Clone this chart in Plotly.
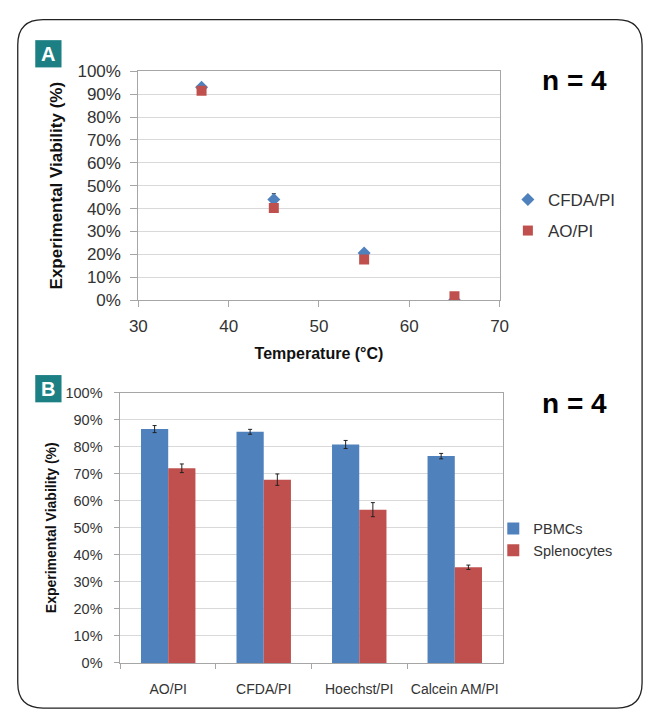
import plotly.graph_objects as go

W, H = 654, 719

# ---------- Data: panel A ----------
temperatures = [37, 45, 55, 65]
cfda_viability = [93.0, 44.0, 20.6, 0.0]
cfda_err = [1.0, 2.5, 1.0, 0.5]
ao_viability = [91.5, 40.3, 17.7, 1.7]
ao_err = [1.0, 1.5, 1.0, 0.5]

# ---------- Data: panel B ----------
stains = ["AO/PI", "CFDA/PI", "Hoechst/PI", "Calcein AM/PI"]
pbmc_viability = [86.5, 85.5, 80.8, 76.5]
pbmc_err = [1.3, 0.9, 1.5, 1.0]
spleno_viability = [72.0, 67.8, 56.7, 35.4]
spleno_err = [1.6, 2.1, 2.6, 0.8]

BLUE = "#4f81bd"
RED = "#c0504d"
TEAL = "#1b7f83"
GRID = "#d9d9d9"
AXIS = "#a6a6a6"
TXT = "#333333"
FONT = "Liberation Sans"


def px_x(x):
    return x / W


def px_y(y):
    return 1 - y / H


fig = go.Figure()

fig.add_trace(go.Scatter(
    x=temperatures, y=cfda_viability, mode="markers", name="CFDA/PI",
    marker=dict(symbol="diamond", size=10, color=BLUE),
    error_y=dict(type="data", array=cfda_err, color="#222222", thickness=1, width=2),
    xaxis="x", yaxis="y", legend="legend", legendgroup="cfda",
))
fig.add_trace(go.Scatter(
    x=temperatures, y=ao_viability, mode="markers", name="AO/PI",
    marker=dict(symbol="square", size=10, color=RED),
    error_y=dict(type="data", array=ao_err, color="#222222", thickness=1, width=2),
    xaxis="x", yaxis="y", legend="legend", legendgroup="ao",
))

fig.add_trace(go.Bar(
    x=stains, y=pbmc_viability, name="PBMCs", marker=dict(color=BLUE, line=dict(width=0)),
    error_y=dict(type="data", array=pbmc_err, color="#222222", thickness=1, width=2),
    xaxis="x2", yaxis="y2", legend="legend2",
))
fig.add_trace(go.Bar(
    x=stains, y=spleno_viability, name="Splenocytes", marker=dict(color=RED, line=dict(width=0)),
    error_y=dict(type="data", array=spleno_err, color="#222222", thickness=1, width=2),
    xaxis="x2", yaxis="y2", legend="legend2",
))

axis_common = dict(
    showline=True, linecolor=AXIS, linewidth=1, mirror=True,
    ticks="outside", tickcolor=AXIS, zeroline=False,
)

fig.update_layout(
    width=W, height=H,
    margin=dict(l=0, r=0, t=0, b=0),
    paper_bgcolor="white", plot_bgcolor="white",
    font=dict(family=FONT, color=TXT),
    barmode="group", bargap=0.43, bargroupgap=0,
    xaxis=dict(
        domain=[px_x(133), px_x(504.5)], anchor="y",
        range=[30, 70], dtick=10, showgrid=False, ticklen=6,
        tickfont=dict(size=17, color=TXT), ticklabelstandoff=5,
        title=dict(text="<b>Temperature (°C)</b>", font=dict(size=16, color="#111111"), standoff=12),
        **axis_common,
    ),
    yaxis=dict(
        domain=[px_y(299), px_y(64)], anchor="x",
        range=[0, 100], dtick=10, ticksuffix="%", ticklen=7,
        showgrid=True, gridcolor=GRID,
        tickfont=dict(size=17, color=TXT), ticklabelstandoff=6,
        title=dict(text="<b>Experimental Viability (%)</b>", font=dict(size=17, color="#111111"), standoff=10),
        **axis_common,
    ),
    xaxis2=dict(
        domain=[px_x(114.6), px_x(507.5)], anchor="y2",
        showgrid=False, tickson="boundaries", ticklen=5, tickangle=0,
        tickfont=dict(size=14, color=TXT), ticklabelstandoff=13,
        **axis_common,
    ),
    yaxis2=dict(
        domain=[px_y(671.7), px_y(394)], anchor="x2",
        range=[0, 100], dtick=10, ticksuffix="%", ticklen=5,
        showgrid=True, gridcolor=GRID,
        tickfont=dict(size=14.5, color=TXT), ticklabelstandoff=9,
        title=dict(text="<b>Experimental Viability (%)</b>", font=dict(size=14, color="#111111"), standoff=5),
        **axis_common,
    ),
    legend=dict(
        x=px_x(513), y=px_y(212), xanchor="left", yanchor="middle",
        font=dict(size=17, color=TXT), bgcolor="rgba(0,0,0,0)",
        itemwidth=30, tracegroupgap=6,
    ),
    legend2=dict(
        x=px_x(498), y=px_y(545), xanchor="left", yanchor="middle",
        font=dict(size=14.5, color=TXT), bgcolor="rgba(0,0,0,0)",
        itemwidth=30, tracegroupgap=0,
    ),
    showlegend=True,
)

# rounded outer frame
r = 26
x0, y0, x1, y1 = 9, 11, 651, 718
def P(x, y):
    return f"{px_x(x)},{px_y(y)}"
path = (
    f"M {P(x0 + r, y0)} L {P(x1 - r, y0)} Q {P(x1, y0)} {P(x1, y0 + r)} "
    f"L {P(x1, y1 - r)} Q {P(x1, y1)} {P(x1 - r, y1)} "
    f"L {P(x0 + r, y1)} Q {P(x0, y1)} {P(x0, y1 - r)} "
    f"L {P(x0, y0 + r)} Q {P(x0, y0)} {P(x0 + r, y0)} Z"
)
shapes = [dict(type="path", xref="paper", yref="paper", path=path,
               line=dict(color="#222222", width=1.3), layer="below")]

# teal panel label boxes
for (bx, by) in [(27, 32), (27, 376)]:
    shapes.append(dict(type="rect", xref="paper", yref="paper",
                       x0=px_x(bx), x1=px_x(bx + 27), y0=px_y(by + 28), y1=px_y(by),
                       fillcolor=TEAL, line=dict(width=0)))
fig.update_layout(shapes=shapes)

annotations = [
    dict(text="<b>A</b>", x=px_x(40.5), y=px_y(46), xref="paper", yref="paper",
         showarrow=False, font=dict(size=20, color="white", family=FONT), xanchor="center", yanchor="middle"),
    dict(text="<b>B</b>", x=px_x(40.5), y=px_y(390), xref="paper", yref="paper",
         showarrow=False, font=dict(size=20, color="white", family=FONT), xanchor="center", yanchor="middle"),
    dict(text="<b>n = 4</b>", x=px_x(582), y=px_y(73), xref="paper", yref="paper",
         showarrow=False, font=dict(size=28, color="#000000", family=FONT), xanchor="center", yanchor="middle"),
    dict(text="<b>n = 4</b>", x=px_x(582), y=px_y(405), xref="paper", yref="paper",
         showarrow=False, font=dict(size=28, color="#000000", family=FONT), xanchor="center", yanchor="middle"),
]
fig.update_layout(annotations=annotations)

fig.write_html(
    "out.html",
    post_script=(
        "document.documentElement.style.margin='0';"
        "document.body.style.margin='0';document.body.style.padding='0';"
        "var d=document.getElementById('{plot_id}');"
        "d.style.position='fixed';d.style.left='0px';d.style.top='0px';"
    ),
)
